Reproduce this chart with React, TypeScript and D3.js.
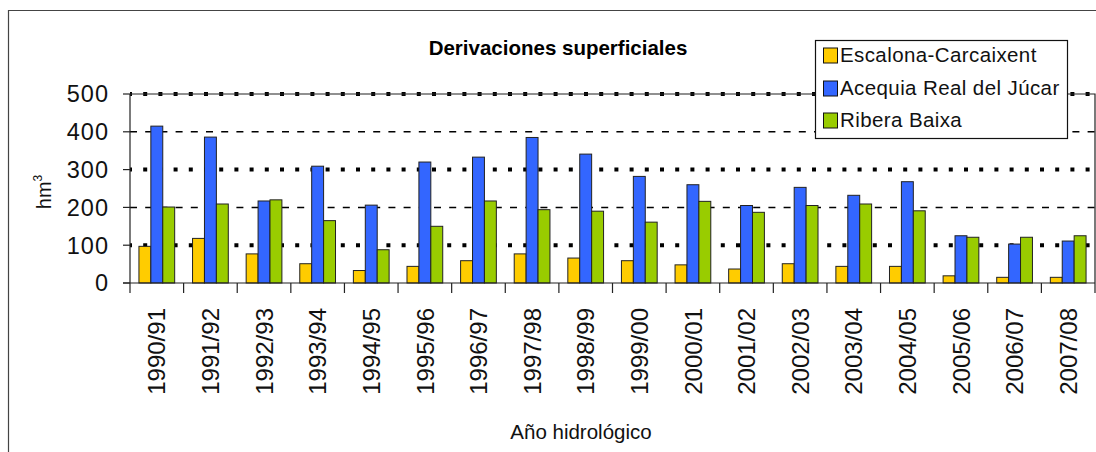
import React from "react";
import * as d3 from "d3";

const categories = [
  "1990/91", "1991/92", "1992/93", "1993/94", "1994/95", "1995/96",
  "1996/97", "1997/98", "1998/99", "1999/00", "2000/01", "2001/02",
  "2002/03", "2003/04", "2004/05", "2005/06", "2006/07", "2007/08",
];
const seriesNames = ["Escalona-Carcaixent", "Acequia Real del Júcar", "Ribera Baixa"];
const escalona = [97, 118, 77, 51, 33, 44, 59, 77, 66, 59, 48, 37, 51, 44, 44, 19, 15, 15];
const acequia = [415, 386, 217, 309, 206, 320, 333, 385, 341, 282, 260, 205, 253, 232, 268, 125, 103, 111];
const ribera = [201, 209, 220, 165, 88, 150, 217, 194, 190, 161, 216, 187, 205, 209, 191, 121, 121, 125];
const seriesValues = [escalona, acequia, ribera];
const seriesColors = ["#FFCC00", "#3366FF", "#99CC00"];
const yTicks = [0, 100, 200, 300, 400, 500];

const W = 1096;
const H = 452;
const left = 130;
const right = 1095;
const top = 94;
const bottom = 283;
const font = "Liberation Sans, Arial, Helvetica, sans-serif";

export default function App() {
  const x = d3.scaleBand<string>().domain(categories).range([left, right]).paddingInner(0).paddingOuter(0);
  const xs = d3.scaleBand<string>().domain(seriesNames).range([0, x.bandwidth()]).paddingInner(0).paddingOuter(0.75);
  const y = d3.scaleLinear().domain([0, 500]).range([bottom, top]);

  const boundaries = categories.map((c) => x(c) as number).concat([right]);

  return (
    <svg width={W} height={H} style={{ position: "absolute", left: 0, top: 0, display: "block", background: "#fff" }}>
      <rect x={0} y={0} width={W} height={H} fill="#fff" />
      {/* outer frame */}
      <path d={`M8.5,${H} V10.5 H${W}`} fill="none" stroke="#444" strokeWidth={1.2} />

      {/* title */}
      <text x={558} y={55} textAnchor="middle" fontFamily={font} fontWeight="bold" fontSize={20.5} fill="#000">
        Derivaciones superficiales
      </text>

      {/* gridlines */}
      {yTicks.filter((t) => t > 0).map((t) => {
        const heavy = t % 200 !== 0;
        return (
          <line
            key={"g" + t}
            x1={left}
            x2={right}
            y1={y(t)}
            y2={y(t)}
            stroke="#000"
            strokeWidth={heavy ? 4 : 1.5}
            strokeDasharray={heavy ? "4 11.2" : "7 8.2"}
            strokeDashoffset={heavy ? 2 : 0}
          />
        );
      })}

      {/* plot border top & right */}
      <path d={`M${left},${y(500)} H${right} V${bottom}`} fill="none" stroke="#222" strokeWidth={1.2} />

      {/* bars */}
      {categories.map((c, i) => (
        <g key={c}>
          {seriesNames.map((s, k) => {
            const v = seriesValues[k][i];
            return (
              <rect
                key={s}
                x={(x(c) as number) + (xs(s) as number)}
                y={y(v)}
                width={xs.bandwidth()}
                height={y(0) - y(v)}
                fill={seriesColors[k]}
                stroke="#222"
                strokeWidth={1}
              />
            );
          })}
        </g>
      ))}

      {/* y axis */}
      <line x1={left} x2={left} y1={y(500)} y2={bottom} stroke="#222" strokeWidth={1.2} />
      {yTicks.map((t) => (
        <g key={"y" + t}>
          <line x1={left - 7} x2={left} y1={y(t)} y2={y(t)} stroke="#222" strokeWidth={1.2} />
          <text
            x={109}
            y={y(t)}
            dy="0.36em"
            textAnchor="end"
            fontFamily={font}
            fontSize={23.5}
            letterSpacing={1}
            fill="#111"
          >
            {t}
          </text>
        </g>
      ))}

      {/* x axis */}
      <line x1={left - 7} x2={right} y1={bottom} y2={bottom} stroke="#222" strokeWidth={1.2} />
      {boundaries.map((b, i) => (
        <line key={"t" + i} x1={b} x2={b} y1={bottom} y2={bottom + 10} stroke="#222" strokeWidth={1.2} />
      ))}
      {categories.map((c) => {
        const cx = (x(c) as number) + x.bandwidth() / 2;
        return (
          <text
            key={"l" + c}
            transform={`translate(${cx},308) rotate(-90)`}
            dy="0.36em"
            textAnchor="end"
            fontFamily={font}
            fontSize={24}
            fill="#111"
          >
            {c}
          </text>
        );
      })}

      {/* axis titles */}
      <text x={581} y={439} textAnchor="middle" fontFamily={font} fontSize={20.5} fill="#111">
        Año hidrológico
      </text>
      <text transform="translate(51,192) rotate(-90)" textAnchor="middle" fontFamily={font} fontSize={20} fill="#111">
        hm<tspan fontSize={12} dy={-9}>3</tspan>
      </text>

      {/* legend */}
      <rect x={815.5} y={40.5} width={252} height={98} fill="#fff" stroke="#111" strokeWidth={1.2} />
      {seriesNames.map((s, k) => {
        const base = [62, 95, 127][k];
        return (
          <g key={"lg" + s}>
            <rect x={823.5} y={base - 14} width={14} height={15} fill={seriesColors[k]} stroke="#111" strokeWidth={1} />
            <text x={840} y={base} fontFamily={font} fontSize={20.5} letterSpacing={0.4} fill="#111">
              {s}
            </text>
          </g>
        );
      })}
    </svg>
  );
}
